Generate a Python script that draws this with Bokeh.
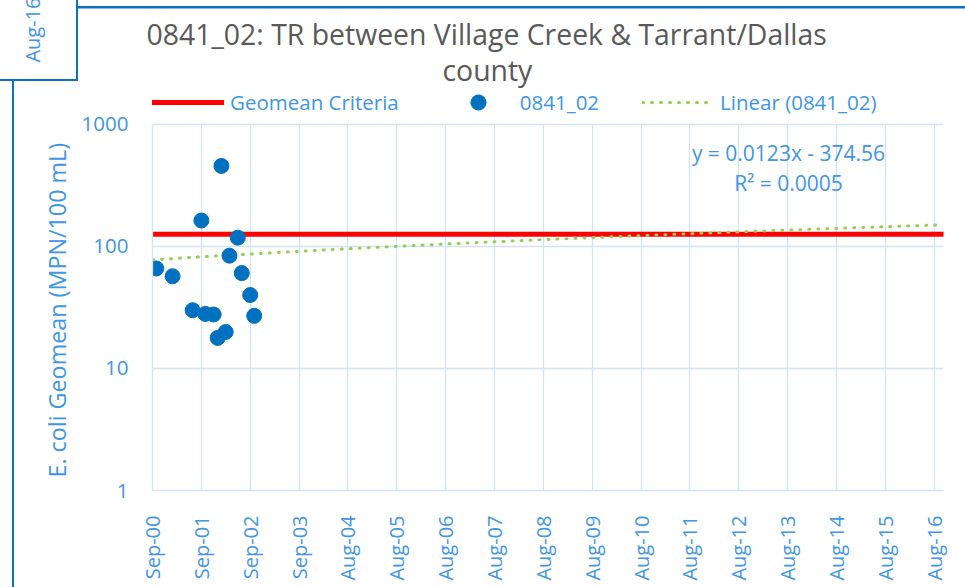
import math
from datetime import date
from bokeh.plotting import figure
from bokeh.models import (FixedTicker, Legend, LegendItem, Label, Title, Range1d, Grid)
from bokeh.embed import file_html
from bokeh.resources import INLINE

# ---------------- data ----------------
sample_dates = ["2000-09-29", "2001-01-29", "2001-06-28", "2001-09-01", "2001-10-01",
                "2001-12-02", "2002-01-01", "2002-01-29", "2002-03-02", "2002-03-30",
                "2002-05-31", "2002-06-30", "2002-09-01", "2002-10-01"]
geomean = [66, 57, 30, 163, 28, 27.7, 17.8, 457, 19.9, 84, 118, 60.5, 40, 27]

criteria_value = 126
criteria_label = "Geomean Criteria"
series_label = "0841_02"
trend_label = "Linear (0841_02)"
trend_slope = 0.0123
trend_intercept = -374.56
r_squared = 0.0005

tick_dates = ["2000-09-01", "2001-09-01", "2002-09-01", "2003-09-01", "2004-08-31",
              "2005-08-31", "2006-08-31", "2007-08-31", "2008-08-30", "2009-08-30",
              "2010-08-30", "2011-08-30", "2012-08-29", "2013-08-29", "2014-08-29",
              "2015-08-29", "2016-08-28"]
tick_labels = ["Sep-00", "Sep-01", "Sep-02", "Sep-03", "Aug-04", "Aug-05", "Aug-06",
               "Aug-07", "Aug-08", "Aug-09", "Aug-10", "Aug-11", "Aug-12", "Aug-13",
               "Aug-14", "Aug-15", "Aug-16"]
x_start_date = "2000-09-01"
x_end_date = "2016-11-06"
y_ticks = [1, 10, 100, 1000]
y_min, y_max = 1, 1000          # value axis extent
y_headroom = 2290               # room above the axis for the legend row

title_lines = ["0841_02: TR between Village Creek & Tarrant/Dallas", "county"]
y_title = "E. coli Geomean (MPN/100 mL)"
other_chart_tick = "Aug-16"

# ---------------- helpers ----------------
EXCEL_EPOCH = date(1899, 12, 30)


def serial(s):
    return (date.fromisoformat(s) - EXCEL_EPOCH).days


xs = [serial(d) for d in sample_dates]
tick_x = [serial(d) for d in tick_dates]
x0, x1 = serial(x_start_date), serial(x_end_date)

trend_x = [x0 + (x1 - x0) * i / 80 for i in range(81)]
trend_y = [trend_slope * x + trend_intercept for x in trend_x]

FONT = "Open Sans"
TXT = "#3f95e6"
GRID = "#d3e3f6"
BLUE = "#0070C0"
FRAME = "#1170BE"

W, H = 965, 587
p = figure(width=W, height=H, y_axis_type="log",
           x_range=Range1d(x0, x1), y_range=Range1d(y_min, y_headroom),
           output_backend="svg", toolbar_location=None,
           min_border_left=152, min_border_right=22,
           min_border_top=80, min_border_bottom=97)
p.outline_line_color = None
p.background_fill_color = "white"
p.border_fill_color = None

# decorative chart-area borders (this chart's frame and the neighbouring chart's corner)
g = f"linear-gradient({FRAME},{FRAME})"
p.styles = {
    "background-color": "white",
    "background-image": ", ".join([g] * 4),
    "background-repeat": "no-repeat",
    "background-position": "77px 6px, 12px 80px, 76px 0px, 0px 78.5px",
    "background-size": "888px 2.5px, 2px 507px, 2px 80px, 78px 2px",
}

# axes
xa = p.xaxis[0]
xa.ticker = FixedTicker(ticks=tick_x)
xa.major_label_overrides = {t: lab for t, lab in zip(tick_x, tick_labels)}
xa.major_label_orientation = math.pi / 2
xa.major_label_text_font = FONT
xa.major_label_text_font_size = "20px"
xa.major_label_text_color = TXT
xa.major_label_standoff = 19
xa.major_tick_line_color = None
xa.minor_tick_line_color = None
xa.axis_line_color = GRID
xa.axis_line_width = 1.3

ya = p.yaxis[0]
ya.ticker = FixedTicker(ticks=y_ticks)
ya.bounds = (y_min, y_max)
ya.major_label_overrides = {t: str(t) for t in y_ticks}
ya.major_label_text_font = FONT
ya.major_label_text_font_size = "20.5px"
ya.major_label_text_color = TXT
ya.major_label_standoff = 18
ya.major_tick_line_color = None
ya.minor_tick_line_color = None
ya.axis_line_color = GRID
ya.axis_line_width = 1.3

p.xgrid.grid_line_color = GRID
p.xgrid.grid_line_width = 1.3
p.ygrid.grid_line_color = GRID
p.ygrid.grid_line_width = 1.3
if "cross_bounds" in Grid.properties():
    p.xgrid.cross_bounds = (y_min, y_max)
else:
    p.xgrid.visible = False
    p.segment(tick_x, [y_min] * len(tick_x), tick_x, [y_max] * len(tick_x),
              line_color=GRID, line_width=1.3)

# glyphs
r_crit = p.line([x0, x1], [criteria_value, criteria_value], line_color="#FF0000",
                line_width=5, line_cap="round")
r_trend = p.line(trend_x, trend_y, line_color="#92D050", line_width=3,
                 line_dash="1 8", line_cap="round")
r_pts = p.scatter(xs, geomean, size=15, fill_color=BLUE, line_color=BLUE)

legend = Legend(items=[LegendItem(label=criteria_label, renderers=[r_crit]),
                       LegendItem(label=series_label, renderers=[r_pts]),
                       LegendItem(label=trend_label, renderers=[r_trend])],
                orientation="horizontal", location=(0, 369),
                glyph_width=72, glyph_height=38, label_standoff=6, spacing=43,
                padding=0, margin=0, border_line_color=None,
                background_fill_alpha=0,
                label_text_font=FONT, label_text_font_size="20.5px",
                label_text_color=TXT)
p.add_layout(legend, "center")


def std(v, fallback=0):
    try:
        Title(standoff=v)
        return v
    except ValueError:
        return fallback


# title: two lines, nearest-to-plot first
p.add_layout(Title(text=title_lines[1], align="left", offset=290, standoff=std(-16),
                   text_font=FONT, text_font_size="28.4px", text_font_style="normal",
                   text_color="#595959"), "above")
p.add_layout(Title(text=title_lines[0], align="left", offset=-6, standoff=8,
                   text_font=FONT, text_font_size="28.4px", text_font_style="normal",
                   text_color="#595959"), "above")

# value-axis title, then the neighbouring chart's last tick label peeking in
p.add_layout(Title(text=y_title, align="left", offset=13, standoff=12,
                   text_font=FONT, text_font_size="23.3px", text_font_style="normal",
                   text_color=TXT), "left")
p.add_layout(Title(text=other_chart_tick, align="right", offset=-83, standoff=std(-27),
                   text_font=FONT, text_font_size="20px", text_font_style="normal",
                   text_color=TXT), "left")

# trendline equation
eq1 = f"y = {trend_slope}x - {abs(trend_intercept)}"
eq2 = f"R\u00b2 = {r_squared:.4f}"
for txt, yy in zip([eq1, eq2], [152, 182]):
    p.add_layout(Label(x=788, y=yy, x_units="canvas", y_units="canvas", text=txt,
                       text_align="center", text_baseline="middle",
                       text_font=FONT, text_font_size="21px", text_color=TXT))

open("out.html", "w").write(file_html(p, INLINE))
